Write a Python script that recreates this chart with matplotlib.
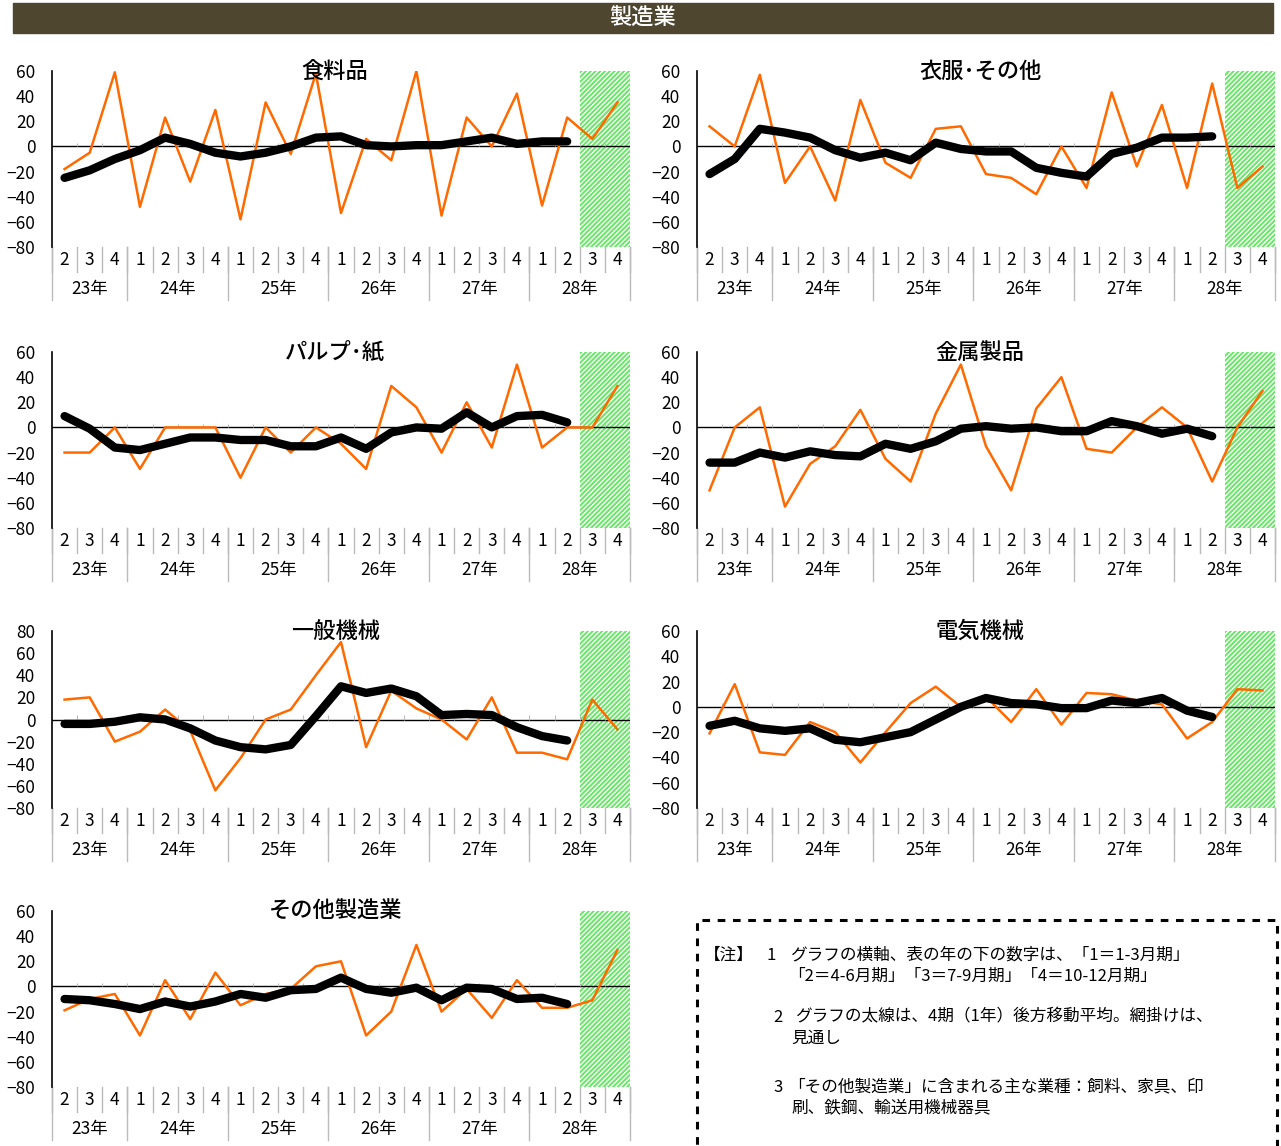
import matplotlib
matplotlib.use('Agg')
import matplotlib.pyplot as plt
from matplotlib.patches import Rectangle
from matplotlib.transforms import blended_transform_factory

plt.rcParams['font.family'] = ['Noto Sans CJK JP', 'DejaVu Sans']
plt.rcParams['hatch.linewidth'] = 1.4

# 横軸
quarters = ['2', '3', '4'] + ['1', '2', '3', '4'] * 5
years = ['23年', '24年', '25年', '26年', '27年', '28年']
n_fcst = 2  # 見通し（最後の2期）

# 各業種: 実績（細線）と4期後方移動平均（太線）
food = [-18, -5, 59, -48, 23, -28, 29, -58, 35, -6, 58, -53, 6, -11, 60, -55, 23, 0, 42, -47, 23, 6, 35]
food_ma = [-25, -19, -10, -3, 7, 2, -5, -8, -5, 0, 7, 8, 1, 0, 1, 1, 4, 7, 2, 4, 4]

cloth = [16, 0, 57, -29, 0, -43, 37, -13, -25, 14, 16, -22, -25, -38, 0, -33, 43, -16, 33, -33, 50, -33, -16]
cloth_ma = [-22, -10, 14, 11, 7, -3, -9, -5, -11, 3, -2, -4, -4, -17, -21, -24, -6, -1, 7, 7, 8]

pulp = [-20, -20, 0, -33, 0, 0, 0, -40, 0, -20, 0, -13, -33, 33, 16, -20, 20, -16, 50, -16, 0, 0, 33]
pulp_ma = [9, -1, -16, -18, -13, -8, -8, -10, -10, -15, -15, -8, -17, -4, 0, -1, 12, 0, 9, 10, 4]

metal = [-50, 0, 16, -63, -29, -15, 14, -25, -43, 11, 50, -15, -50, 15, 40, -17, -20, 0, 16, 0, -43, 0, 29]
metal_ma = [-28, -28, -20, -24, -19, -22, -23, -13, -17, -11, -1, 1, -1, 0, -3, -3, 5, 1, -5, -1, -7]

machine = [18, 20, -20, -11, 9, -10, -64, -35, 0, 9, 40, 70, -25, 26, 10, 0, -18, 20, -30, -30, -36, 18, -9]
machine_ma = [-4, -4, -2, 2, 0, -8, -19, -25, -27, -23, 3, 30, 24, 28, 21, 4, 5, 4, -7, -15, -19]

elec = [-21, 18, -36, -38, -12, -20, -44, -20, 3, 16, 0, 8, -12, 14, -14, 11, 10, 5, 2, -25, -12, 14, 13]
elec_ma = [-15, -11, -17, -19, -17, -26, -28, -24, -20, -10, 0, 7, 3, 2, -1, -1, 5, 3, 7, -3, -8]

other = [-19, -10, -6, -39, 5, -26, 11, -15, -6, -2, 16, 20, -39, -20, 33, -20, -2, -25, 5, -17, -17, -11, 29]
other_ma = [-10, -11, -14, -18, -12, -16, -12, -6, -9, -3, -2, 7, -2, -5, -1, -11, -1, -2, -10, -9, -14]

titles = ['食料品', '衣服･その他', 'パルプ･紙', '金属製品', '一般機械', '電気機械', 'その他製造業']
actuals = [food, cloth, pulp, metal, machine, elec, other]
averages = [food_ma, cloth_ma, pulp_ma, metal_ma, machine_ma, elec_ma, other_ma]
ytops = [60, 60, 60, 60, 80, 60, 60]

notes = [
    (704, 955, '【注】'),
    (766, 955, '1'),
    (790, 955, 'グラフの横軸、表の年の下の数字は、「1＝1-3月期」'),
    (788, 976, '「2＝4-6月期」「3＝7-9月期」「4＝10-12月期」'),
    (773, 1017, '2'),
    (795, 1017, 'グラフの太線は、4期（1年）後方移動平均。網掛けは、'),
    (791, 1038, '見通し'),
    (773, 1087, '3'),
    (788, 1087, '「その他製造業」に含まれる主な業種：飼料、家具、印'),
    (791, 1108, '刷、鉄鋼、輸送用機械器具'),
]

W, H = 1281, 1146
fig = plt.figure(figsize=(W / 100, H / 100), dpi=100)

# 見出し
fig.patches.append(Rectangle((13 / W, 1 - 33 / H), 1260 / W, 30 / H,
                             transform=fig.transFigure, color='#4F4630'))
fig.text(643 / W, 1 - 18 / H, '製造業', color='white', fontsize=16,
         ha='center', va='center', fontweight='medium')

cols = [(52, 630), (697, 1275)]
rows = [(71, 247), (352, 528), (631, 808), (911, 1087)]

n = len(quarters)
x = list(range(n))
bounds = [i - 0.5 for i in range(n + 1)]
year_bounds = [i - 0.5 for i, q in enumerate(quarters) if q == '1' or i == 0] + [n - 0.5]

for k, title in enumerate(titles):
    x0, x1 = cols[k % 2]
    yt, yb = rows[k // 2]
    hpx = yb - yt
    ax = fig.add_axes([x0 / W, 1 - yb / H, (x1 - x0) / W, hpx / H])
    ytop = ytops[k]
    ax.set_xlim(-0.5, n - 0.5)
    ax.set_ylim(-80, ytop)
    ax.set_yticks(range(-80, ytop + 1, 20))
    ax.set_xticks([])
    ax.tick_params(axis='y', length=0, pad=12, labelsize=12.5)
    for s in ['top', 'right', 'bottom']:
        ax.spines[s].set_visible(False)
    ax.spines['left'].set_linewidth(1.2)

    # 見通しの網掛け
    ax.axvspan(n - n_fcst - 0.5, n - 0.5, facecolor='white', edgecolor='#66E866',
               hatch='///////', linewidth=0, zorder=0)

    ax.axhline(0, color='black', linewidth=1, zorder=1)
    ax.vlines(bounds[1:], 0, 3 * ytop / 60, color='#BBBBBB', linewidth=0.8, zorder=1)

    ax.plot(x, actuals[k], color='#FF6A00', linewidth=1.8, zorder=2)
    ma = averages[k]
    ax.plot(x[:len(ma)], ma, color='black', linewidth=6,
            solid_capstyle='round', solid_joinstyle='round', zorder=3)

    ax.text(0.49, 1.0, title, transform=ax.transAxes, ha='center', va='center',
            fontsize=16, fontweight='medium')

    tr = blended_transform_factory(ax.transData, ax.transAxes)
    for i, q in enumerate(quarters):
        ax.text(i, -13 / hpx, q, transform=tr, ha='center', va='center', fontsize=12.5)
    for b in bounds:
        ax.plot([b, b], [0, -25 / hpx], transform=tr, color='#BBBBBB',
                linewidth=1, clip_on=False)
    for b in year_bounds:
        ax.plot([b, b], [0, -53 / hpx], transform=tr, color='#BBBBBB',
                linewidth=1, clip_on=False)
    for j, yl in enumerate(years):
        c = (year_bounds[j] + year_bounds[j + 1]) / 2
        ax.text(c, -42 / hpx, yl, transform=tr, ha='center', va='center', fontsize=12.5)

# 注記の枠
fig.patches.append(Rectangle((697 / W, -0.01), 580 / W, 1 - 920 / H + 0.01,
                             transform=fig.transFigure, fill=False,
                             edgecolor='black', linewidth=2.2, linestyle=(0, (2.5, 2.5))))
for px, py, s in notes:
    fig.text(px / W, 1 - py / H, s, fontsize=12, ha='left', va='center')

fig.savefig('out.png', dpi=100)
